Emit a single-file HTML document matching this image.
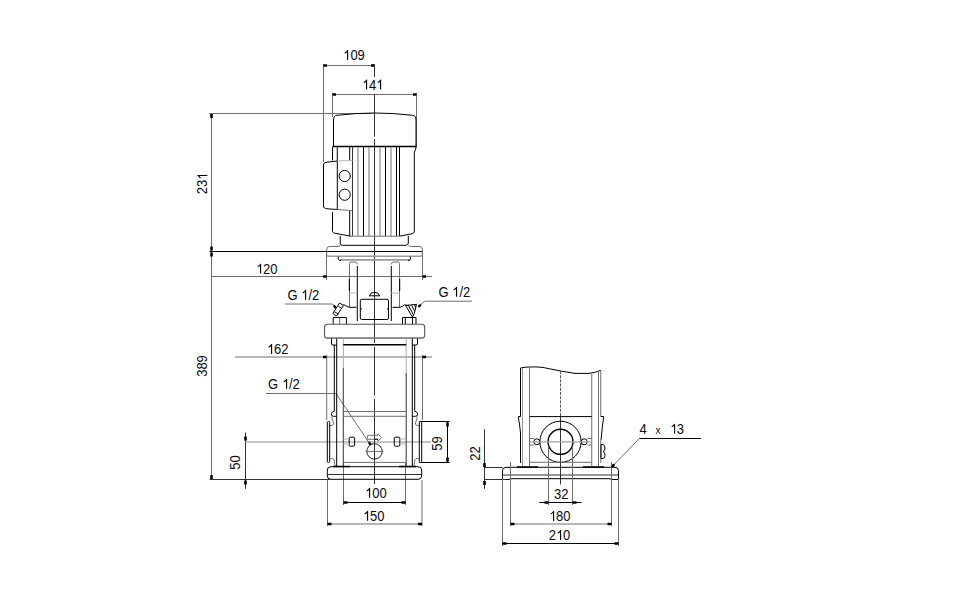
<!DOCTYPE html>
<html><head><meta charset="utf-8">
<style>
html,body{margin:0;padding:0;background:#fff;width:976px;height:600px;overflow:hidden}
svg{display:block}
text{font-family:"Liberation Sans",sans-serif;font-size:13px;fill:#0a0a14}
.k{stroke:#000;stroke-width:1;fill:none}
.kb{stroke:#000;stroke-width:1.4;fill:none}
.d{stroke:#333;stroke-width:1;fill:none}
.g{stroke:#6e6e6e;stroke-width:1;fill:none}
.lg{stroke:#b4b4b4;stroke-width:1;fill:none}
.cl{stroke:#8a8a8a;stroke-width:1;fill:none;stroke-dasharray:14 2 2 2}
.ar{fill:#000;stroke:none}
.one{fill:#000;stroke:none}
</style></head>
<body>
<svg width="976" height="600" viewBox="0 0 976 600">
<!-- ============ FRONT VIEW DIMENSIONS ============ -->
<g id="dims-front">
  <!-- 109 -->
  <path class="g" d="M323.5 64V162 M323.5 65.5H374.5"/>
  <path class="ar" d="M323.5 64.2h3.5v2.6h-3.5z M371 64.2h3.5v2.6H371z"/>
  <g transform="translate(354 60) scale(1 1.07)"><text text-anchor="middle"><tspan fill="transparent">1</tspan>09</text><path class="one" d="M-7.00 0.00L-7.00 -7.28Q-7.72 -6.60 -9.29 -5.90L-9.29 -7.01Q-7.27 -7.93 -6.57 -9.31L-5.86 -9.31L-5.86 0.00Z"/></g>
  <!-- 141 -->
  <path class="g" d="M332.5 93V117 M416.5 93V147 M332.5 94.5H416.5"/>
  <path class="ar" d="M332.5 93.2h3.5v2.6h-3.5z M413 93.2h3.5v2.6H413z"/>
  <g transform="translate(372.5 89.5) scale(1 1.07)"><text text-anchor="middle"><tspan fill="transparent">1</tspan>4<tspan fill="transparent">1</tspan></text><path class="one" d="M-6.50 0.00L-6.50 -7.28Q-7.22 -6.60 -8.79 -5.90L-8.79 -7.01Q-6.77 -7.93 -6.07 -9.31L-5.36 -9.31L-5.36 0.00Z"/><path class="one" d="M7.50 0.00L7.50 -7.28Q6.78 -6.60 5.21 -5.90L5.21 -7.01Q7.23 -7.93 7.93 -9.31L8.64 -9.31L8.64 0.00Z"/></g>
  <!-- 231 / 389 -->
  <path class="g" d="M211.5 113V479.5 M209 113.5H372"/>
  <path d="M209.5 251.5H422.5" stroke="#000" stroke-width="1.15" fill="none"/>
  <path class="d" d="M209.5 479.5H330"/>
  <path class="ar" d="M210.2 114h2.6v4h-2.6z M210.2 246.5h2.6v4h-2.6z M210.2 252.5h2.6v4h-2.6z M210.2 475h2.6v4h-2.6z"/>
  <g transform="translate(207.3 183.4) rotate(-90) scale(1 1.07)"><text text-anchor="middle">23<tspan fill="transparent">1</tspan></text><path class="one" d="M7.31 0.00L7.31 -7.28Q6.60 -6.60 5.03 -5.90L5.03 -7.01Q7.04 -7.93 7.74 -9.31L8.46 -9.31L8.46 0.00Z"/></g>
  <g transform="translate(207 366) rotate(-90) scale(1 1.07)"><text text-anchor="middle">389</text></g>
  <!-- 120 -->
  <path class="g" d="M211.5 276.5H432 M326.5 252V280 M422.5 252V280"/>
  <path class="ar" d="M323 275.2h3.5v2.6H323z M422.5 275.2h3.5v2.6h-3.5z"/>
  <g transform="translate(266.6 273.6) scale(1 1.07)"><text text-anchor="middle"><tspan fill="transparent">1</tspan>20</text><path class="one" d="M-6.60 0.00L-6.60 -7.28Q-7.32 -6.60 -8.89 -5.90L-8.89 -7.01Q-6.87 -7.93 -6.17 -9.31L-5.46 -9.31L-5.46 0.00Z"/></g>
  <!-- 162 -->
  <path class="g" d="M235 357H432 M326.7 355V420 M422.5 355V420"/>
  <path class="ar" d="M323 355.7h3.5v2.6H323z M422.5 355.7h3.5v2.6h-3.5z"/>
  <g transform="translate(277.7 354) scale(1 1.07)"><text text-anchor="middle"><tspan fill="transparent">1</tspan>62</text><path class="one" d="M-6.70 0.00L-6.70 -7.28Q-7.42 -6.60 -8.99 -5.90L-8.99 -7.01Q-6.97 -7.93 -6.27 -9.31L-5.56 -9.31L-5.56 0.00Z"/></g>
  <!-- G 1/2 lower -->
  <path class="g" d="M266 393.5H336L369.5 443.5"/>
  <ellipse class="ar" cx="369.7" cy="443.3" rx="1.4" ry="2.2" transform="rotate(-35 369.7 443.3)"/>
  <g transform="translate(268 388.8) scale(1 1.07)"><text>G <tspan fill="transparent">1</tspan>/2</text><path class="one" d="M18.00 0.00L18.00 -7.28Q17.28 -6.60 15.71 -5.90L15.71 -7.01Q17.73 -7.93 18.43 -9.31L19.14 -9.31L19.14 0.00Z"/></g>
  <!-- G 1/2 upper left -->
  <path class="g" d="M285 304H332.5L334.5 306.5"/>
  <ellipse class="ar" cx="334.8" cy="306.8" rx="1.3" ry="1.8" transform="rotate(-35 334.8 306.8)"/>
  <g transform="translate(287.5 299.7) scale(1 1.07)"><text>G <tspan fill="transparent">1</tspan>/2</text><path class="one" d="M17.50 0.00L17.50 -7.28Q16.78 -6.60 15.21 -5.90L15.21 -7.01Q17.23 -7.93 17.93 -9.31L18.64 -9.31L18.64 0.00Z"/></g>
  <!-- G 1/2 upper right -->
  <path class="g" d="M472 301.2H425L419 306"/>
  <ellipse class="ar" cx="419.6" cy="305.8" rx="1.3" ry="1.9" transform="rotate(50 419.6 305.8)"/>
  <g transform="translate(438.5 296.8) scale(1 1.07)"><text>G <tspan fill="transparent">1</tspan>/2</text><path class="one" d="M17.50 0.00L17.50 -7.28Q16.78 -6.60 15.21 -5.90L15.21 -7.01Q17.23 -7.93 17.93 -9.31L18.64 -9.31L18.64 0.00Z"/></g>
  <!-- 50 -->
  <path class="d" d="M245.5 432.5V488.8"/>
  <path class="ar" d="M244.2 436.5h2.6v4h-2.6z M244.2 480.5h2.6v4h-2.6z"/>
  <g transform="translate(240 462.5) rotate(-90) scale(1 1.07)"><text text-anchor="middle">50</text></g>
  <!-- 59 -->
  <path class="k" d="M419.5 421.5H449.7 M419.5 462.5H449.7 M447.5 421.5V462.5"/>
  <path class="ar" d="M446.2 422.5h2.6v4h-2.6z M446.2 457.5h2.6v4h-2.6z"/>
  <g transform="translate(441.5 443.6) rotate(-90) scale(1 1.07)"><text text-anchor="middle">59</text></g>
  <!-- 100 -->
  <path class="g" d="M343.5 462V505 M405.5 462V505"/>
  <path class="k" d="M343.5 502.5H405.5"/>
  <path class="ar" d="M343.5 501.2h4v2.6h-4z M401.5 501.2h4v2.6h-4z"/>
  <g transform="translate(375.8 497.8) scale(1 1.07)"><text text-anchor="middle"><tspan fill="transparent">1</tspan>00</text><path class="one" d="M-6.80 0.00L-6.80 -7.28Q-7.52 -6.60 -9.09 -5.90L-9.09 -7.01Q-7.07 -7.93 -6.37 -9.31L-5.66 -9.31L-5.66 0.00Z"/></g>
  <!-- 150 -->
  <path class="g" d="M327.5 480V526 M422 480V526 M327.5 524H422"/>
  <path class="ar" d="M327.5 522.7h4v2.6h-4z M418 522.7h4v2.6h-4z"/>
  <g transform="translate(373.6 520.8) scale(1 1.07)"><text text-anchor="middle"><tspan fill="transparent">1</tspan>50</text><path class="one" d="M-6.60 0.00L-6.60 -7.28Q-7.32 -6.60 -8.89 -5.90L-8.89 -7.01Q-6.87 -7.93 -6.17 -9.31L-5.46 -9.31L-5.46 0.00Z"/></g>
  <!-- horizontal centre line through ports -->
  <path d="M245 442H431" stroke="#8c8c8c" stroke-width="1.2" fill="none"/>
  <!-- vertical centre line -->
  <path class="d" d="M374.5 64V77 M374.5 94V136.5 M374.5 139V343 M374.5 347V395.5 M374.5 399V484"/>
</g>

<!-- ============ FRONT VIEW PUMP ============ -->
<g id="pump-front">
  <!-- fan cover -->
  <path class="k" d="M333.5 146.5V120Q333.5 115.5 337 115.3Q356 113 374.5 113Q393 113 412.5 115.3Q416 115.5 416 120V146.5"/>
  <path class="kb" d="M332.5 146.5H416.5"/>
  <!-- motor body -->
  <path class="k" d="M332.5 147V160.5 M416 147Q416 150 414.3 152V232Q414 233.5 411 234L399.5 236.2 M332.5 212V231.5Q333 233 335 233.3L351 236.2"/>
  <path class="k" d="M337.3 147V209.5 M349.7 147V160.5 M349.7 210.7V236"/>
  <path class="d" d="M352.5 147V236"/>
  <path d="M358 147V236 M369 147V236 M380 147V236 M391 147V236" stroke="#9a9a9a" stroke-width="1.4" fill="none"/>
  <path class="k" d="M363.5 147V236 M385.5 147V236 M396.5 147V236 M399.5 147V236"/>
  <path class="g" d="M349 236.2H400"/>
  <!-- terminal box -->
  <path class="k" d="M323.5 207V165Q323.5 162.8 326 162.3L337.3 161"/>
  <path class="lg" d="M337.3 161L352.5 160.5"/>
  <path class="k" d="M323.5 207Q324 208.3 326.5 208.7L337.3 209.5"/>
  <path class="g" d="M337.3 209.5L352.5 210.7"/>
  <circle class="k" cx="344.7" cy="176" r="5.6"/>
  <circle class="k" cx="344.7" cy="194.7" r="5.6"/>
  <!-- shoulder -->
  <path class="k" d="M340.3 236V244Q340.5 245.3 342.5 245.3 M406 245.3Q408.3 245 408.3 243V236"/><path class="k" d="M342.5 245.3H406"/>
  <!-- mounting flange -->
  <path class="g" d="M326.7 255V249Q327 246.5 329.5 246.5H337Q339.5 246.3 340.3 245.3 M408.3 245.3Q409 246.5 411.5 246.5H420Q422.3 246.7 422.3 249V255"/>
  <path d="M327 255.8Q328 256.2 330 256.2H420Q422 256 422.3 255" stroke="#9a9a9a" fill="none" stroke-width="1.5"/>
  <!-- lip -->
  <path d="M340 259.8H410" stroke="#9a9a9a" fill="none" stroke-width="1.8"/>
  <path class="k" d="M338.7 256.5Q337.8 258 338.3 259.3Q339 260.5 341 260.5 M410 256.5Q411 258 410.5 259.3Q410 260.5 408 260.5"/>
  <!-- legs -->
  <path class="g" d="M349.5 307V263.5Q349.5 262 351 262H355Q357.3 262 357.3 264.5 M399.5 307V263.5Q399.5 262 398 262H393.8Q391.3 262 391.3 264.5"/>
  <path class="k" d="M349.3 279V291 M399.7 279V291"/>
  <path class="k" d="M357.3 266V321 M391.3 266V321"/>
  <path class="lg" d="M349.5 293H357.3 M391.3 293H399.5" stroke-width="2"/>
  <path class="k" d="M356.5 307.3H350Q347 307 343.5 304.5 M392.5 307.3H400Q402 307 404.5 304.8Q407 305.5 409 305.5"/>
  <!-- coupling box -->
  <rect class="k" x="360.3" y="299.3" width="28.2" height="20.2" rx="1.5"/>
  <path class="k" d="M360.3 309H362 M386.8 309H388.5"/>
  <path class="k" d="M369 295.8H380 M369.5 295.8Q370 292.3 374.5 292.3Q379 292.3 379.5 295.8"/>
  <!-- plugs -->
  <path class="k" d="M332.8 313.5L339.5 303L343.5 305.5L336.5 316Z M334.5 311.8L338.5 314.2 M338.5 306.5L342 308.5"/>
  <path class="k" d="M405.5 305.5L416.5 304.3L414.3 313.5L412.5 317Z M408.5 305.5L413.3 314.5 M411.5 305.2L414.5 310.8 M414.5 304.8L415.5 307"/>
  <!-- bolts on head -->
  <path class="k" d="M333.2 324V317.5H346.4V324 M402.5 324V317.5H416V324 M405.3 317.5V324 M412.5 317.5V324"/><path class="g" d="M339.7 317.5V324"/>
  <!-- pump head -->
  <path d="M327.5 324.3H421.7Q424.7 324.3 424.7 327.3V335.3Q424.7 338.1 421.7 338.1H327.5Q324.5 338.1 324.5 335.3V327.3Q324.5 324.3 327.5 324.3Z" stroke="#555" stroke-width="1.1" fill="none"/><path d="M327.5 338.1H421.7" stroke="#888" stroke-width="1.2" fill="none"/>
  <!-- nuts, staybolts, port flanges (left half, mirrored for right) -->
  <g id="halfL">
    <path class="k" d="M331.5 338.5V344Q331.5 345 333 345H336.7"/>
    <path class="k" d="M334.3 345V411.3Q332 411.5 331.5 413.5V415Q331.8 416.3 333.5 416.3H336.7"/>
    <path class="k" d="M336.7 338.5V466"/>
    <path class="g" d="M331.8 416.5Q332 420 333.5 422.5Q334.5 424.5 331.8 425.5H329.7"/>
    <rect class="k" x="327.3" y="421.5" width="2.4" height="41" rx="1"/>
    <path class="g" d="M329.7 459Q331 458.3 333 458.7Q334.5 459.5 334.5 462Q334.5 464 335.5 466.5"/>
  </g>
  <g transform="translate(749 0) scale(-1 1)">
    <path class="k" d="M331.5 338.5V344Q331.5 345 333 345H336.7"/>
    <path class="k" d="M334.3 345V411.3Q332 411.5 331.5 413.5V415Q331.8 416.3 333.5 416.3H336.7"/>
    <path class="k" d="M336.7 338.5V466"/>
    <path class="g" d="M331.8 416.5Q332 420 333.5 422.5Q334.5 424.5 331.8 425.5H329.7"/>
    <rect class="k" x="327.3" y="421.5" width="2.4" height="41" rx="1"/>
    <path class="g" d="M329.7 459Q331 458.3 333 458.7Q334.5 459.5 334.5 462Q334.5 464 335.5 466.5"/>
  </g>
  <!-- sleeve -->
  <path d="M343.3 338.5V368 M406.2 338.5V373" stroke="#aaa" fill="none"/><path class="d" d="M343.3 368V466 M406.2 373V466"/>
  <path class="kb" d="M343.3 344.7H406.2"/>
  <path class="g" d="M343.3 411.5H406.2 M343.3 416.3H406.2"/>
  <!-- slots -->
  <rect class="k" x="349.2" y="437.2" width="5.4" height="9" rx="1"/>
  <rect class="k" x="394.3" y="437.2" width="5.5" height="9" rx="1"/>
  <path class="lg" d="M343.5 439H349.2 M343.5 444H349.2 M399.8 439H406 M399.8 444H406"/>
  <!-- flow arrow -->
  <path class="g" d="M367.3 435.3H378V434L381.7 437.5L378 441V439.3H367.3Z"/><path class="k" d="M374.5 439.3H378"/>
  <!-- drain -->
  <circle cx="374.5" cy="451.4" r="7.7" stroke="#222" stroke-width="1" fill="none"/>
  <path class="g" d="M365.5 451.4H383.5"/>
  <!-- body bottom -->
  <path class="g" d="M343.3 462.4H406.2"/>
  <!-- base -->
  <path class="k" d="M331 466.7H418 M327.3 476V470Q327.3 466.7 331 466.7 M421.7 476V470Q421.7 466.7 418 466.7 M327.3 476Q327.5 479.3 331 479.3H418Q421.5 479.3 421.7 476"/>
  <path class="d" d="M327.3 474.5H421.7"/>
  <path class="kb" d="M333 466.5H350 M399 466.5H416"/>
</g>

<!-- ============ SIDE VIEW ============ -->
<g id="side">
  <!-- break line -->
  <path class="k" d="M520.5 368Q525 367 529.5 367Q541 366.5 548 368.5Q562 371.5 575 373.4H588Q595 373 601 370.3"/>
  <path class="k" d="M520.5 368V416.5 M520.5 433V463"/><path class="g" d="M529.5 367V466 M591.75 373.5V466 M598.5 371V466 M600.75 370.3V416.5 M600.75 440V463"/><path d="M522.5 368V466" stroke="#999" fill="none"/>
  <path class="k" d="M529.5 416.6H591.75"/>
  <path class="k" d="M518.5 416.5H520.5 M518.5 416.5Q518.5 420 519.5 424L520.5 433 M603.5 416.5H600.75 M603.5 416.5Q603.5 420 602.5 425L601 440"/>
  <path d="M560.5 371V416" stroke="#555" stroke-width="1" stroke-dasharray="3 1.2"/><path class="d" d="M560.5 416V484.5"/>
  <circle class="k" cx="560.5" cy="441.8" r="20.6"/>
  <circle class="kb" cx="560.5" cy="441.8" r="12.5" stroke-width="1.6"/>
  <circle class="k" cx="536.8" cy="441.8" r="3"/>
  <circle class="k" cx="584.2" cy="441.8" r="3"/>
  <path class="g" d="M529.5 438.5H534 M529.5 445H534 M587.5 438.5H591.75 M587.5 445H591.75"/>
  <path d="M530 441.8H591" stroke="#a0a0a0" stroke-width="1.2" fill="none"/>
  <path class="g" d="M529.5 462.3H591.7"/>
  <path class="k" d="M601 444.5H603Q605 445 605 448Q605 451.5 603 451.5Q605 452 605 455.5Q605 458.5 603 458.5H601Z"/>
  <!-- base -->
  <path class="k" d="M502.5 479.5V470.5Q502.5 467.3 506 467.3H615Q618.5 467.3 618.5 470.5V479.5 M502.5 479.5H508Q510 479 512 478.7H609Q611 479 613 479.5H618.5"/>
  <path class="d" d="M502.5 475H618.5"/>
  <path class="kb" d="M517 467H538 M583 467H604"/>
  <!-- 22 -->
  <path class="d" d="M484.5 429.2V488.8 M484 467.5H502.5 M484 479.5H506"/>
  <path class="ar" d="M483.2 463h2.6v4h-2.6z M483.2 481h2.6v4h-2.6z"/>
  <g transform="translate(479.5 453.5) rotate(-90) scale(1 1.07)"><text text-anchor="middle">22</text></g>
  <!-- 32 -->
  <path class="g" d="M548.5 446V505 M572.5 446V505"/>
  <path class="k" d="M539.3 502.5H581.5"/>
  <path class="ar" d="M544.5 501.2h4v2.6h-4z M572.5 501.2h4v2.6h-4z"/>
  <g transform="translate(561.2 498.9) scale(1 1.07)"><text text-anchor="middle">32</text></g>
  <!-- 180 -->
  <path class="g" d="M510.5 462V526 M611.5 462V526 M510.5 524H611.5"/>
  <path class="ar" d="M510.5 522.7h4v2.6h-4z M607.5 522.7h4v2.6h-4z"/>
  <g transform="translate(559.7 520.9) scale(1 1.07)"><text text-anchor="middle"><tspan fill="transparent">1</tspan>80</text><path class="one" d="M-6.70 0.00L-6.70 -7.28Q-7.42 -6.60 -8.99 -5.90L-8.99 -7.01Q-6.97 -7.93 -6.27 -9.31L-5.56 -9.31L-5.56 0.00Z"/></g>
  <!-- 210 -->
  <path class="g" d="M502.5 479V546 M618.5 479V546"/>
  <path class="k" d="M502.5 543.5H618.5"/>
  <path class="ar" d="M502.5 542.2h4v2.6h-4z M614.5 542.2h4v2.6h-4z"/>
  <g transform="translate(559.5 540) scale(1 1.07)"><text text-anchor="middle">2<tspan fill="transparent">1</tspan>0</text><path class="one" d="M0.50 0.00L0.50 -7.28Q-0.22 -6.60 -1.79 -5.90L-1.79 -7.01Q0.23 -7.93 0.93 -9.31L1.64 -9.31L1.64 0.00Z"/></g>
  <!-- 4 x 13 -->
  <path class="k" d="M639.3 438.5H701"/>
  <path class="g" d="M639.3 438.5L612.8 466"/>
  <ellipse class="ar" cx="613" cy="465.8" rx="1.5" ry="2.2" transform="rotate(45 613 465.8)"/>
  <g transform="translate(639.5 433.6) scale(1 1.07)"><text>4</text></g>
  <g transform="translate(655.5 433.6) scale(1 1.07)"><text style="font-size:10px">x</text></g>
  <g transform="translate(669.5 433.6) scale(1 1.07)"><text><tspan fill="transparent">1</tspan>3</text><path class="one" d="M4.50 0.00L4.50 -7.28Q3.78 -6.60 2.21 -5.90L2.21 -7.01Q4.23 -7.93 4.93 -9.31L5.64 -9.31L5.64 0.00Z"/></g>
</g>
</svg>
</body></html>
